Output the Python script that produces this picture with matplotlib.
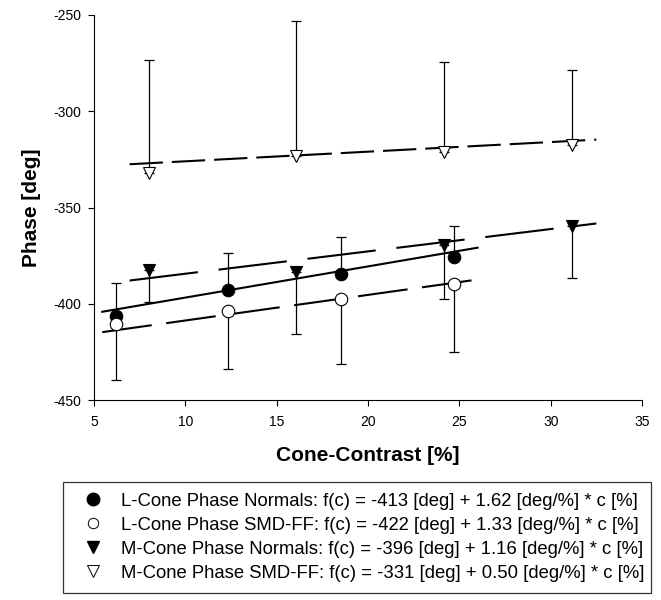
import numpy as np
import matplotlib.pyplot as plt
from matplotlib.lines import Line2D

plt.rcParams['font.family'] = ['Liberation Sans', 'DejaVu Sans']
plt.rcParams['axes.unicode_minus'] = False

# L-cone phase, normals (filled circles), error bars go up
l_norm_x = [6.2, 12.35, 18.5, 24.7]
l_norm_y = [-406.4, -392.9, -384.5, -375.6]
l_norm_err = [17.4, 19.1, 19.0, 16.0]

# L-cone phase, SMD-FF (open circles), error bars go down
l_smd_x = [6.2, 12.35, 18.5, 24.7]
l_smd_y = [-410.7, -403.6, -397.5, -389.9]
l_smd_err = [28.7, 30.3, 34.0, 35.1]

# M-cone phase, normals (filled triangles), error bars go down
m_norm_x = [8.0, 16.05, 24.15, 31.15]
m_norm_y = [-382.5, -383.3, -369.5, -359.6]
m_norm_err = [16.4, 32.4, 28.0, 27.2]

# M-cone phase, SMD-FF (open triangles), error bars go up
m_smd_x = [8.0, 16.05, 24.15, 31.15]
m_smd_y = [-332.3, -323.2, -321.0, -317.7]
m_smd_err = [58.8, 70.2, 46.6, 39.0]

# linear fits f(c) = a + b*c
fit_a = [-413, -422, -396, -331]
fit_b = [1.62, 1.33, 1.16, 0.50]
fit_range = [(5.45, 26.0), (5.45, 26.0), (6.95, 32.5), (6.95, 32.5)]

labels = [
    "L-Cone Phase Normals: f(c) = -413 [deg] + 1.62 [deg/%] * c [%]",
    "L-Cone Phase SMD-FF: f(c) = -422 [deg] + 1.33 [deg/%] * c [%]",
    "M-Cone Phase Normals: f(c) = -396 [deg] + 1.16 [deg/%] * c [%]",
    "M-Cone Phase SMD-FF: f(c) = -331 [deg] + 0.50 [deg/%] * c [%]",
]

fig = plt.figure(figsize=(6.61, 6.0), dpi=100)
ax = fig.add_axes([94 / 661, 1 - 400 / 600, 548 / 661, 385 / 600])

# regression lines (dash lengths differ per line, like the original)
styles = ['-', (0, (24, 7)), (0, (33, 10)), (0, (16, 4.3))]
for a, b, (x0, x1), ls in zip(fit_a, fit_b, fit_range, styles):
    xx = np.array([x0, x1])
    ax.plot(xx, a + b * xx, color='black', lw=1.5, linestyle=ls, zorder=2)

ebkw = dict(fmt='none', ecolor='black', elinewidth=0.9, capsize=3.5, capthick=0.9, zorder=1)
zeros = [0, 0, 0, 0]
ax.errorbar(l_norm_x, l_norm_y, yerr=[zeros, l_norm_err], **ebkw)
ax.errorbar(l_smd_x, l_smd_y, yerr=[l_smd_err, zeros], **ebkw)
ax.errorbar(m_norm_x, m_norm_y, yerr=[m_norm_err, zeros], **ebkw)
ax.errorbar(m_smd_x, m_smd_y, yerr=[zeros, m_smd_err], **ebkw)

mkw = dict(linestyle='none', markeredgecolor='black', markeredgewidth=0.8, zorder=3)
ax.plot(l_norm_x, l_norm_y, marker='o', ms=9, markerfacecolor='black', **mkw)
ax.plot(l_smd_x, l_smd_y, marker='o', ms=9, markerfacecolor='white', **mkw)
ax.plot(m_norm_x, m_norm_y, marker='v', ms=9, markerfacecolor='black', **mkw)
ax.plot(m_smd_x, m_smd_y, marker='v', ms=9, markerfacecolor='white', **mkw)

ax.set_xlim(5, 35)
ax.set_ylim(-450, -250)
ax.set_xticks([5, 10, 15, 20, 25, 30, 35])
ax.set_yticks([-450, -400, -350, -300, -250])
ax.spines['top'].set_visible(False)
ax.spines['right'].set_visible(False)
ax.tick_params(direction='out', length=4, width=0.8, labelsize=10)
ax.tick_params(axis='x', pad=7)
ax.tick_params(axis='y', pad=5)
ax.set_xlabel("Cone-Contrast [%]", fontsize=15, fontweight='bold', labelpad=12)
ax.set_ylabel("Phase [deg]", fontsize=15, fontweight='bold', labelpad=9)

handles = [
    Line2D([], [], marker='o', ms=9, linestyle='none', markerfacecolor='black', markeredgecolor='black'),
    Line2D([], [], marker='o', ms=7.5, linestyle='none', markerfacecolor='white', markeredgecolor='black', markeredgewidth=0.7),
    Line2D([], [], marker='v', ms=9, linestyle='none', markerfacecolor='black', markeredgecolor='black'),
    Line2D([], [], marker='v', ms=8, linestyle='none', markerfacecolor='white', markeredgecolor='black', markeredgewidth=0.7),
]
leg = fig.legend(handles, labels, loc='lower left',
                 bbox_to_anchor=(63 / 661, 7 / 600, 588 / 661, 110 / 600),
                 mode='expand', fontsize=13.3, frameon=True, fancybox=False,
                 handlelength=2.08, handletextpad=0.46, labelspacing=0.38,
                 borderpad=0.6, borderaxespad=0)
leg.get_frame().set_edgecolor('black')
leg.get_frame().set_linewidth(0.9)

fig.savefig("out.png", dpi=100)
